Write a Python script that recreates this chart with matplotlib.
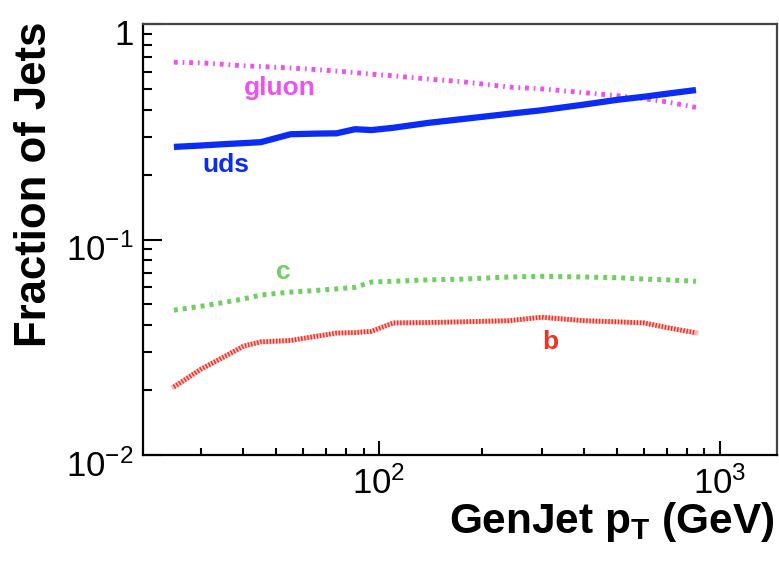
import numpy as np
import matplotlib
matplotlib.use("Agg")
from matplotlib import pyplot as plt
from matplotlib import transforms
from matplotlib.ticker import LogLocator, NullFormatter

plt.rcParams["font.family"] = ["Liberation Sans", "DejaVu Sans"]
plt.rcParams["mathtext.fontset"] = "custom"
plt.rcParams["mathtext.rm"] = "Liberation Sans"
plt.rcParams["mathtext.bf"] = "Liberation Sans:bold"

# ------ data

pt = [25, 30, 35, 40, 45, 55, 65, 75, 85, 95, 110, 140, 175, 240, 300, 400, 500, 600, 700, 850]
gluon = [0.665, 0.66, 0.65, 0.64, 0.635, 0.625, 0.615, 0.605, 0.595, 0.585,
         0.575, 0.555, 0.54, 0.51, 0.50, 0.48, 0.465, 0.45, 0.435, 0.41]
uds = [0.269, 0.273, 0.277, 0.280, 0.283, 0.308, 0.310, 0.311, 0.325, 0.322,
       0.330, 0.348, 0.362, 0.383, 0.398, 0.423, 0.445, 0.46, 0.475, 0.494]
charm = [0.047, 0.049, 0.051, 0.053, 0.0553, 0.057, 0.058, 0.059, 0.060, 0.0635,
         0.064, 0.065, 0.0655, 0.067, 0.0675, 0.067, 0.0665, 0.0655, 0.065, 0.064]
bottom = [0.0207, 0.025, 0.0285, 0.032, 0.0335, 0.034, 0.0355, 0.0368, 0.037, 0.0375,
          0.041, 0.0412, 0.0415, 0.042, 0.0436, 0.042, 0.0415, 0.041, 0.039, 0.0369]

ytick_vals = [0.01, 0.1, 1]
ytick_labels = [r"$\mathregular{10^{-2}}$", r"$\mathregular{10^{-1}}$", "1"]
xtick_vals = [100, 1000]
xtick_labels = [r"$\mathregular{10^{2}}$", r"$\mathregular{10^{3}}$"]

# ------

fig = plt.figure(figsize=(7.79, 5.61), dpi=100)
ax = fig.add_axes([0.1836, 0.1889, 0.8139, 0.7683])

ax.plot(pt, gluon, c="#f050f0", lw=3.5, ls=(0, (0.8, 1.0, 0.35, 1.0)))
ax.plot(pt, uds, c="#0a2cf5", lw=4.5, solid_capstyle="butt")
ax.plot(pt, charm, c="#6fd060", lw=3.6, ls=(0, (0.8, 1.0)))
ax.plot(pt, bottom, c="#f6c0c0", lw=3.5)
ax.plot(pt, bottom, c="#ee3322", lw=3.5, ls=(0, (0.3, 0.35)))

ax.text(51.3, 0.505, "gluon", color="#f050f0", fontsize=19, fontweight="bold",
        ha="center", va="center")
ax.text(35.6, 0.222, "uds", color="#0a2cf5", fontsize=19, fontweight="bold",
        ha="center", va="center")
ax.text(52.3, 0.0706, "c", color="#6fd060", fontsize=19, fontweight="bold",
        ha="center", va="center")
ax.text(317, 0.0334, "b", color="#ee3322", fontsize=19, fontweight="bold",
        ha="center", va="center")

ax.set_xscale("log")
ax.set_yscale("log")
ax.set_xlim(20.3, 1470)
ax.set_ylim(0.01, 1)

ax.set_yticks(ytick_vals, labels=ytick_labels)
ax.set_xticks(xtick_vals, labels=xtick_labels)
ax.xaxis.set_minor_locator(LogLocator(base=10, subs=np.arange(2, 10)))
ax.yaxis.set_minor_locator(LogLocator(base=10, subs=np.arange(2, 10)))
ax.xaxis.set_minor_formatter(NullFormatter())
ax.yaxis.set_minor_formatter(NullFormatter())

ax.tick_params(axis="both", which="both", direction="in", top=False, right=False,
               width=1.5, colors="black", labelsize=25)
ax.tick_params(axis="y", which="major", length=14, pad=7)
ax.tick_params(axis="y", which="minor", length=6.5)
ax.tick_params(axis="x", which="major", length=10, pad=8)
ax.tick_params(axis="x", which="minor", length=5)

offset = transforms.ScaledTranslation(0, -8 / 100, fig.dpi_scale_trans)
for lab in ax.get_yticklabels():
    lab.set_transform(lab.get_transform() + offset)

for side in ["left", "bottom"]:
    ax.spines[side].set_linewidth(1.6)
    ax.spines[side].set_color("black")
for side in ["top", "right"]:
    ax.spines[side].set_linewidth(1.6)
    ax.spines[side].set_color("#444444")

fig.text(35 / 779, 1 - 22 / 561, "Fraction of Jets", rotation=90, ha="center", va="top",
         fontsize=31.5, fontweight="bold")
fig.text(775 / 779, 1 - 533 / 561, r"GenJet p$_\mathbf{T}$ (GeV)", ha="right", va="baseline",
         fontsize=30.5, fontweight="bold")

fig.savefig("out.png", dpi=100)
